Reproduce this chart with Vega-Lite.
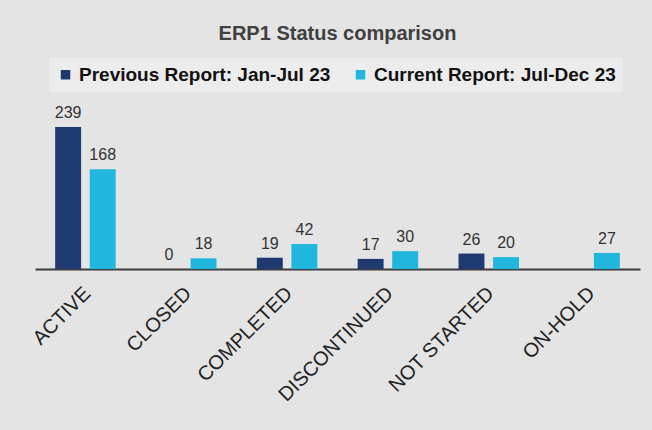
{
  "$schema": "https://vega.github.io/schema/vega-lite/v6.json",
  "autosize": {"type": "none"},
  "width": 605,
  "height": 142,
  "padding": {"left": 35, "top": 127, "right": 12, "bottom": 161},
  "background": "#e4e4e4",
  "title": {
    "text": "ERP1 Status comparison",
    "font": "Liberation Sans",
    "fontSize": 20,
    "fontWeight": "bold",
    "color": "#404040",
    "anchor": "middle",
    "offset": 14
  },
  "config": {
    "view": {"stroke": null},
    "font": "Liberation Sans"
  },
  "data": {
    "values": [
      {"status": "ACTIVE", "series": "Previous Report: Jan-Jul 23", "value": 239},
      {"status": "ACTIVE", "series": "Current Report: Jul-Dec 23", "value": 168},
      {"status": "CLOSED", "series": "Previous Report: Jan-Jul 23", "value": 0},
      {"status": "CLOSED", "series": "Current Report: Jul-Dec 23", "value": 18},
      {"status": "COMPLETED", "series": "Previous Report: Jan-Jul 23", "value": 19},
      {"status": "COMPLETED", "series": "Current Report: Jul-Dec 23", "value": 42},
      {"status": "DISCONTINUED", "series": "Previous Report: Jan-Jul 23", "value": 17},
      {"status": "DISCONTINUED", "series": "Current Report: Jul-Dec 23", "value": 30},
      {"status": "NOT STARTED", "series": "Previous Report: Jan-Jul 23", "value": 26},
      {"status": "NOT STARTED", "series": "Current Report: Jul-Dec 23", "value": 20},
      {"status": "ON-HOLD", "series": "Current Report: Jul-Dec 23", "value": 27}
    ]
  },
  "encoding": {
    "x": {
      "field": "status",
      "type": "nominal",
      "sort": ["ACTIVE", "CLOSED", "COMPLETED", "DISCONTINUED", "NOT STARTED", "ON-HOLD"],
      "scale": {"paddingInner": 0.4, "paddingOuter": 0.2},
      "axis": {
        "title": null,
        "labelAngle": -45,
        "labelAlign": "right",
        "labelBaseline": "top",
        "labelFontSize": 20,
        "labelColor": "#222222",
        "labelPadding": 14,
        "labelOffset": -5,
        "labelLimit": 0,
        "ticks": false,
        "domainColor": "#3c3c3c",
        "domainWidth": 2
      }
    },
    "xOffset": {
      "field": "series",
      "type": "nominal",
      "scale": {"domain": ["Previous Report: Jan-Jul 23", "Current Report: Jul-Dec 23"], "paddingInner": 0.25}
    },
    "y": {
      "field": "value",
      "type": "quantitative",
      "scale": {"domain": [0, 239], "nice": false},
      "axis": null
    }
  },
  "layer": [
    {
      "mark": {"type": "bar"},
      "encoding": {
        "color": {
          "field": "series",
          "type": "nominal",
          "scale": {
            "domain": ["Previous Report: Jan-Jul 23", "Current Report: Jul-Dec 23"],
            "range": ["#1f3a70", "#20b6de"]
          },
          "legend": {
            "title": null,
            "orient": "none",
            "legendX": 14,
            "legendY": -69,
            "direction": "horizontal",
            "symbolType": "square",
            "symbolSize": 90,
            "labelFontSize": 19,
            "labelFontWeight": "bold",
            "labelColor": "#111111",
            "labelLimit": 0,
            "labelOffset": 4,
            "fillColor": "#ececec",
            "padding": 7,
            "columnPadding": 20
          }
        }
      }
    },
    {
      "mark": {"type": "text", "baseline": "bottom", "dy": -6, "fontSize": 16, "color": "#333333"},
      "encoding": {
        "text": {"field": "value", "type": "quantitative"}
      }
    }
  ]
}
